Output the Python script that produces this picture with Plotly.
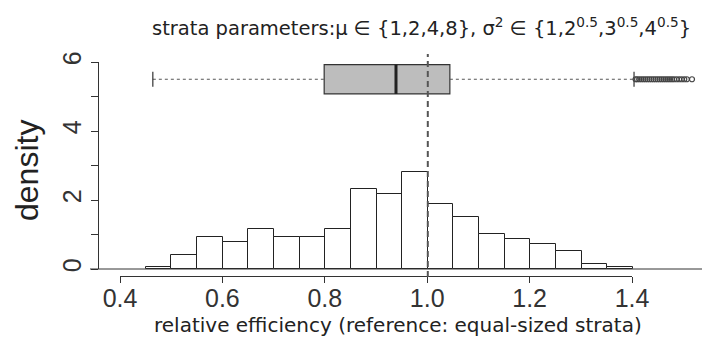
import plotly.graph_objects as go

# ---------------- data ----------------
bin_left = [0.45, 0.50, 0.55, 0.60, 0.65, 0.70, 0.75, 0.80, 0.85, 0.90,
            0.95, 1.00, 1.05, 1.10, 1.15, 1.20, 1.25, 1.30, 1.35]
density = [0.06, 0.42, 0.94, 0.77, 1.15, 0.94, 0.94, 1.15, 2.31, 2.16,
           2.80, 1.88, 1.52, 1.01, 0.86, 0.72, 0.52, 0.14, 0.06]
bin_width = 0.05

box_q1 = 0.798
box_median = 0.938
box_q3 = 1.043
box_low = 0.464
box_high = 1.402
outliers = [1.405, 1.408, 1.412, 1.416, 1.42, 1.424, 1.428, 1.432, 1.436, 1.44,
            1.444, 1.448, 1.452, 1.456, 1.46, 1.464, 1.468, 1.472, 1.476, 1.48,
            1.485, 1.49, 1.495, 1.50, 1.505, 1.515]

x_ticks = [0.4, 0.6, 0.8, 1.0, 1.2, 1.4]
x_ticklabels = ["0.4", "0.6", "0.8", "1.0", "1.2", "1.4"]
y_ticks = [0, 2, 4, 6]
y_ticklabels = ["0", "2", "4", "6"]
reference_value = 1.0

title_text = ("strata parameters:\u03bc \u2208 {1,2,4,8}, \u03c3<sup>2</sup> \u2208 "
              "{1,2<sup>0.5</sup>,3<sup>0.5</sup>,4<sup>0.5</sup>}")
x_title = "relative efficiency (reference: equal-sized strata)"
y_title = "density"

# ---------------- layout helpers ----------------
W, H = 702, 339
def px(x):
    return x / W
def py(y):
    return 1 - y / H

BOX_POS = 5.5
BOX_W = 0.85
STAPLE = 0.22
FONT = "Liberation Sans, Arial, sans-serif"
WIDE = "DejaVu Sans, sans-serif"

fig = go.Figure()

# histogram bars
centers = [b + bin_width / 2 for b in bin_left]
fig.add_trace(go.Bar(x=centers, y=density, width=bin_width,
                     marker=dict(color="white", line=dict(color="#222", width=1)),
                     showlegend=False, hoverinfo="skip"))

# box (whiskers drawn separately, R style)
fig.add_trace(go.Box(orientation="h", y=[BOX_POS], q1=[box_q1], median=[box_median],
                     q3=[box_q3], lowerfence=[box_q1], upperfence=[box_q3],
                     width=BOX_W, fillcolor="#bdbdbd",
                     line=dict(color="#333", width=1.2),
                     boxpoints=False, showlegend=False, hoverinfo="skip"))
# median thick line
fig.add_trace(go.Scatter(x=[box_median, box_median],
                         y=[BOX_POS - BOX_W / 2, BOX_POS + BOX_W / 2],
                         mode="lines", line=dict(color="#222", width=3),
                         showlegend=False, hoverinfo="skip"))
# dashed whiskers
for a, b in [(box_low, box_q1), (box_q3, box_high)]:
    fig.add_trace(go.Scatter(x=[a, b], y=[BOX_POS, BOX_POS], mode="lines",
                             line=dict(color="#555", width=1, dash="3px,3px"),
                             showlegend=False, hoverinfo="skip"))
# staples
for v in [box_low, box_high]:
    fig.add_trace(go.Scatter(x=[v, v], y=[BOX_POS - STAPLE, BOX_POS + STAPLE],
                             mode="lines", line=dict(color="#333", width=1.2),
                             showlegend=False, hoverinfo="skip"))
# outliers
fig.add_trace(go.Scatter(x=outliers, y=[BOX_POS] * len(outliers), mode="markers",
                         marker=dict(symbol="circle-open", size=5, color="#444",
                                     line=dict(width=1.2)),
                         showlegend=False, hoverinfo="skip"))

# invisible trace to create display-axes subplot
fig.add_trace(go.Scatter(x=[reference_value], y=[0], xaxis="x2", yaxis="y2",
                         mode="markers", marker=dict(opacity=0),
                         showlegend=False, hoverinfo="skip"))

# reference lines
fig.add_hline(y=0, line=dict(color="#333", width=1))
fig.add_vline(x=reference_value, line=dict(color="#555", width=2, dash="6px,4px"))

# pixel mapping: x value v -> 120 + (v-0.4)*513 ; y value d -> 269 - 34.5*d
def xv(p):
    return 0.4 + (p - 120) / 513.0
def yv(p):
    return (269 - p) / 34.5

fig.update_layout(
    template="none",
    width=W, height=H, margin=dict(l=0, r=0, t=0, b=0, pad=0, autoexpand=False),
    paper_bgcolor="white", plot_bgcolor="rgba(0,0,0,0)",
    font=dict(family=FONT, color="#222"),
    bargap=0,
    xaxis=dict(domain=[px(90), 1], range=[xv(90), xv(702)], visible=False,
               automargin=False),
    yaxis=dict(domain=[py(277), py(54)], range=[yv(277), yv(54)], visible=False,
               automargin=False),
    xaxis2=dict(domain=[px(120), px(632)], range=[0.4, 1.4], anchor="free",
                position=py(276), showline=True, linecolor="#333", linewidth=1,
                ticks="outside", ticklen=6, tickcolor="#333", automargin=False,
                ticklabelstandoff=-6,
                tickvals=x_ticks, ticktext=x_ticklabels,
                tickfont=dict(size=25, color="#333"), showgrid=False, zeroline=False),
    yaxis2=dict(domain=[py(269), py(62)], range=[0, 6], anchor="free",
                position=px(98), showline=True, linecolor="#333", linewidth=1,
                ticks="outside", ticklen=7, tickcolor="#333", automargin=False,
                tickvals=y_ticks, ticktext=y_ticklabels, tickangle=-90,
                minor=dict(dtick=1, ticks="outside", ticklen=7, tickcolor="#333"),
                tickfont=dict(size=25, color="#333"), showgrid=False, zeroline=False),
    annotations=[
        dict(text=title_text, xref="paper", yref="paper", x=px(421), y=py(27),
             showarrow=False, font=dict(family=WIDE, size=19.5, color="#222"),
             xanchor="center", yanchor="middle"),
        dict(text=x_title, xref="paper", yref="paper", x=px(398), y=py(325),
             showarrow=False, font=dict(family=WIDE, size=20, color="#222"),
             xanchor="center", yanchor="middle"),
        dict(text=y_title, xref="paper", yref="paper", x=px(27), y=py(171),
             showarrow=False, textangle=-90, font=dict(size=32, color="#222"),
             xanchor="center", yanchor="middle"),
    ],
)

fig.write_html("out.html")
